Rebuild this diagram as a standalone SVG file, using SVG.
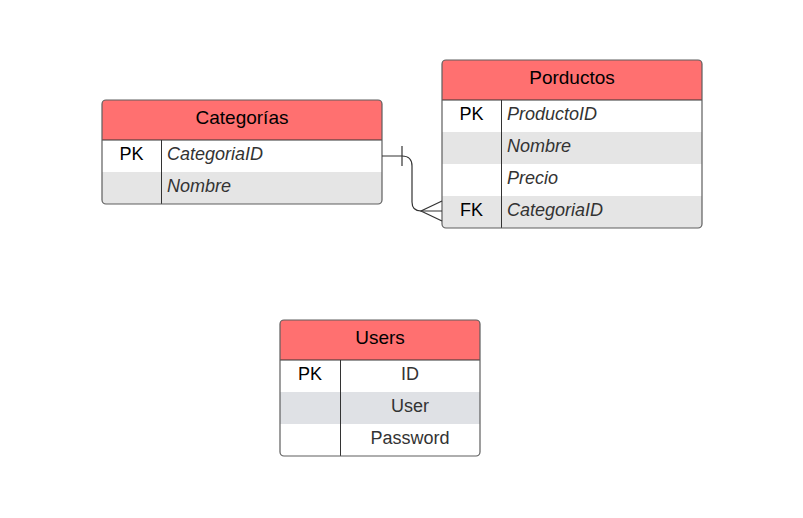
<svg xmlns="http://www.w3.org/2000/svg" width="803" height="518" viewBox="0 0 803 518">
<style>
.hdr{fill:#FF7070}
.w{fill:#FFFFFF}
.g{fill:#E5E5E5}
.g2{fill:#DFE1E5}
.frame{fill:none;stroke:#5E5E5E;stroke-width:1.2}
.sep{stroke:#333333;stroke-width:1;fill:none}
.title{font-family:"Liberation Sans",Arial,sans-serif;font-size:19px;fill:#000;text-anchor:middle}
.key{font-family:"Liberation Sans",Arial,sans-serif;font-size:18px;fill:#000;text-anchor:middle}
.fld{font-family:"Liberation Sans",Arial,sans-serif;font-size:18px;fill:#333;font-style:italic}
.fldc{font-family:"Liberation Sans",Arial,sans-serif;font-size:18px;fill:#333;text-anchor:middle}
.conn{fill:none;stroke:#333333;stroke-width:1.2}
</style>
<defs>
<clipPath id="cCat"><rect x="102" y="100" width="280" height="104" rx="4"/></clipPath>
<clipPath id="cProd"><rect x="442" y="60" width="260" height="168" rx="4"/></clipPath>
<clipPath id="cUsr"><rect x="280" y="320" width="200" height="136" rx="4"/></clipPath>
</defs>
<rect width="803" height="518" fill="#FFFFFF"/>

<g id="categorias">
<g clip-path="url(#cCat)">
<rect class="hdr" x="102" y="100" width="280" height="40"/>
<rect class="w" x="102" y="140" width="280" height="32"/>
<rect class="g" x="102" y="172" width="280" height="32"/>
</g>
<line class="sep" x1="102" y1="140" x2="382" y2="140" stroke="#666"/>
<line class="sep" x1="161.5" y1="140" x2="161.5" y2="204"/>
<rect class="frame" x="102" y="100" width="280" height="104" rx="4"/>
<text class="title" x="242" y="124">Categorías</text>
<text class="key" x="131.5" y="160">PK</text>
<text class="fld" x="167" y="160">CategoriaID</text>
<text class="fld" x="167" y="192">Nombre</text>
</g>

<g id="productos">
<g clip-path="url(#cProd)">
<rect class="hdr" x="442" y="60" width="260" height="40"/>
<rect class="w" x="442" y="100" width="260" height="32"/>
<rect class="g" x="442" y="132" width="260" height="32"/>
<rect class="w" x="442" y="164" width="260" height="32"/>
<rect class="g" x="442" y="196" width="260" height="32"/>
</g>
<line class="sep" x1="442" y1="100" x2="702" y2="100"/>
<line class="sep" x1="501.5" y1="100" x2="501.5" y2="228"/>
<rect class="frame" x="442" y="60" width="260" height="168" rx="4"/>
<text class="title" x="572" y="84">Porductos</text>
<text class="key" x="471.5" y="120">PK</text>
<text class="fld" x="507" y="120">ProductoID</text>
<text class="fld" x="507" y="152">Nombre</text>
<text class="fld" x="507" y="184">Precio</text>
<text class="key" x="471.5" y="216">FK</text>
<text class="fld" x="507" y="216">CategoriaID</text>
</g>

<g id="users">
<g clip-path="url(#cUsr)">
<rect class="hdr" x="280" y="320" width="200" height="40"/>
<rect class="w" x="280" y="360" width="200" height="32"/>
<rect class="g2" x="280" y="392" width="200" height="32"/>
<rect class="w" x="280" y="424" width="200" height="32"/>
</g>
<line class="sep" x1="280" y1="360" x2="480" y2="360"/>
<line class="sep" x1="340.5" y1="360" x2="340.5" y2="456"/>
<rect class="frame" x="280" y="320" width="200" height="136" rx="4"/>
<text class="title" x="380" y="344">Users</text>
<text class="key" x="310" y="380">PK</text>
<text class="fldc" x="410" y="380">ID</text>
<text class="fldc" x="410" y="412">User</text>
<text class="fldc" x="410" y="444">Password</text>
</g>

<g id="connectors">
<path class="conn" d="M382,156 H402 Q412,156 412,166 V202 Q412,211 421,211 H442"/>
<line class="conn" x1="402" y1="146" x2="402" y2="166"/>
<path class="conn" d="M442,201 L421,211 L442,221"/>
</g>
</svg>
